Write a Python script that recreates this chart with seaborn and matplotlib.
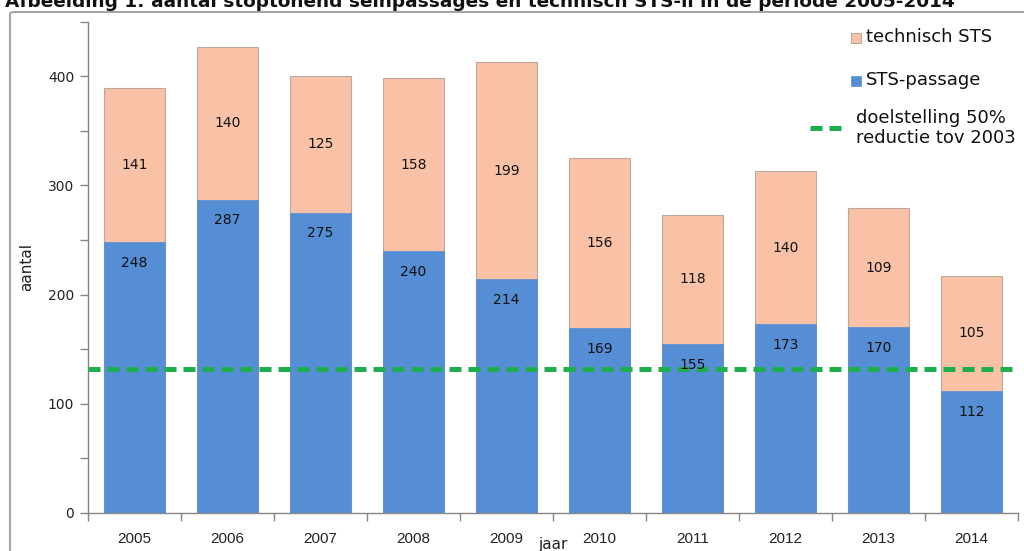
import numpy as np
import pandas as pd
import matplotlib
matplotlib.use("Agg")
import matplotlib.pyplot as plt
from matplotlib.patches import Rectangle, FancyBboxPatch
from matplotlib.lines import Line2D
import seaborn as sns

years = ["2005", "2006", "2007", "2008", "2009", "2010", "2011", "2012", "2013", "2014"]
sts_passage = [248, 287, 275, 240, 214, 169, 155, 173, 170, 112]
technisch_sts = [141, 140, 125, 158, 199, 156, 118, 140, 109, 105]
target = 132

title = "Afbeelding 1: aantal stoptonend seinpassages en technisch STS-ii in de periode 2005-2014"
blue = "#558ED5"
peach = "#F9C2A6"
green = "#1DAF4B"

sns.set_theme(style="white")
plt.rcParams['font.family'] = ['DejaVu Sans']

df = pd.DataFrame({"jaar": years, "sts": sts_passage, "tech": technisch_sts})
df["total"] = df["sts"] + df["tech"]

W, H = 1024, 551
fig = plt.figure(figsize=(W / 100, H / 100), dpi=100)
ax = fig.add_axes([88 / W, 1 - 513 / H, (1018 - 88) / W, (513 - 21.5) / H])

sns.barplot(data=df, x="jaar", y="total", color=peach, width=0.66, ax=ax,
            edgecolor="#BBA89C", linewidth=0.8, saturation=1, zorder=2)
sns.barplot(data=df, x="jaar", y="sts", color=blue, width=0.66, ax=ax,
            edgecolor=blue, linewidth=0.5, saturation=1, zorder=2)

ax.axhline(target, color=green, lw=3.6, ls=(0, (2.4, 1.4)), zorder=3, solid_capstyle="butt")

for i, (s, t) in enumerate(zip(df["sts"], df["tech"])):
    ax.annotate(str(s), (i, s), xytext=(0, -15), textcoords="offset points",
                ha="center", va="center", fontsize=10, color="#111111", zorder=4)
    ax.text(i, s + t / 2, str(t), ha="center", va="center", fontsize=10,
            color="#111111", zorder=4)

ax.set_xlim(-0.5, len(years) - 0.5)
ax.set_ylim(0, 450)
ax.set_yticks([0, 100, 200, 300, 400])
ax.set_yticks([50, 150, 250, 350, 450], minor=True)
ax.set_xticks(np.arange(-0.5, len(years), 1.0), minor=True)
ax.tick_params(axis="y", which="both", left=True, length=6, width=1, color="#868686",
               direction="out", labelsize=10, labelcolor="#222222", pad=4)
ax.tick_params(axis="x", which="major", length=0, pad=14, labelsize=11, labelcolor="#222222")
ax.tick_params(axis="x", which="minor", bottom=True, length=6, width=1, color="#868686", direction="out")
for lab in ax.get_xticklabels():
    lab.set_fontfamily("Liberation Sans")

for sp in ["top", "right"]:
    ax.spines[sp].set_visible(False)
for sp in ["left", "bottom"]:
    ax.spines[sp].set_color("#868686")
    ax.spines[sp].set_linewidth(1)

ax.set_ylabel("aantal", fontsize=11, labelpad=10, color="#222222")
ax.set_xlabel("jaar", fontsize=11, color="#222222")
ax.xaxis.set_label_coords(0.5, -0.049)

# figure frame
fig.patches.append(FancyBboxPatch((10 / W, -0.1), 1.1, 1 - 12 / H + 0.1,
                                  boxstyle="round,pad=0,rounding_size=0.004",
                                  transform=fig.transFigure, fill=False,
                                  edgecolor="#A6A6A6", lw=1.5, zorder=0))

fig.text(5 / W, 1 - 2 / H, title, ha="left", va="center", fontsize=13.3,
         fontweight="bold", color="#111111")

# legend
fig.patches.append(Rectangle((851 / W, 1 - 43 / H), 10 / W, 10 / H, transform=fig.transFigure,
                             facecolor=peach, edgecolor="#BBA89C", lw=0.8))
fig.text(866 / W, 1 - 37 / H, "technisch STS", ha="left", va="center", fontsize=13, color="#111111")
fig.patches.append(Rectangle((851 / W, 1 - 86 / H), 10 / W, 10 / H, transform=fig.transFigure,
                             facecolor=blue, edgecolor=blue, lw=0.5))
fig.text(866 / W, 1 - 80 / H, "STS-passage", ha="left", va="center", fontsize=13, color="#111111")
fig.lines.append(Line2D([810 / W, 846 / W], [1 - 128 / H] * 2, transform=fig.transFigure,
                        color=green, lw=3.6, ls=(0, (2.4, 1.4))))
fig.text(856 / W, 1 - 128 / H, "doelstelling 50%\nreductie tov 2003", ha="left", va="center",
         fontsize=13, color="#111111", linespacing=1.15)

fig.savefig("out.png", dpi=100)
